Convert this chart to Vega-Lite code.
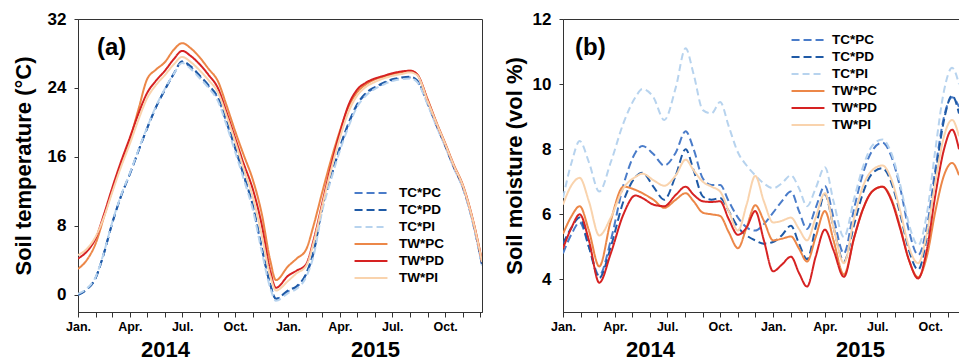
{
  "$schema": "https://vega.github.io/schema/vega-lite/v6.json",
  "padding": {"left": 11, "top": 9, "right": 0, "bottom": 0},
  "spacing": 19,
  "datasets": {
    "temp": [
      {"d": "2014-01-01", "TC_PC": 0.0, "TC_PD": 0.0, "TC_PI": 0.1, "TW_PC": 3.0, "TW_PD": 4.2, "TW_PI": 4.6},
      {"d": "2014-01-16", "TC_PC": 0.6, "TC_PD": 0.6, "TC_PI": 0.7, "TW_PC": 4.0, "TW_PD": 5.0, "TW_PI": 5.3},
      {"d": "2014-02-01", "TC_PC": 2.0, "TC_PD": 2.0, "TC_PI": 2.1, "TW_PC": 6.0, "TW_PD": 6.6, "TW_PI": 6.8},
      {"d": "2014-02-15", "TC_PC": 4.8, "TC_PD": 4.8, "TC_PI": 4.9, "TW_PC": 9.0, "TW_PD": 9.3, "TW_PI": 9.0},
      {"d": "2014-03-01", "TC_PC": 8.2, "TC_PD": 8.2, "TC_PI": 8.3, "TW_PC": 12.0, "TW_PD": 12.3, "TW_PI": 11.8},
      {"d": "2014-03-16", "TC_PC": 11.3, "TC_PD": 11.3, "TC_PI": 11.4, "TW_PC": 15.0, "TW_PD": 15.3, "TW_PI": 14.7},
      {"d": "2014-04-01", "TC_PC": 14.0, "TC_PD": 14.0, "TC_PI": 14.1, "TW_PC": 18.0, "TW_PD": 18.2, "TW_PI": 17.5},
      {"d": "2014-04-16", "TC_PC": 16.7, "TC_PD": 16.7, "TC_PI": 16.8, "TW_PC": 21.5, "TW_PD": 21.0, "TW_PI": 20.3},
      {"d": "2014-05-01", "TC_PC": 19.3, "TC_PD": 19.3, "TC_PI": 19.4, "TW_PC": 25.0, "TW_PD": 23.4, "TW_PI": 22.8},
      {"d": "2014-05-16", "TC_PC": 21.7, "TC_PD": 21.7, "TC_PI": 21.8, "TW_PC": 26.1, "TW_PD": 24.8, "TW_PI": 24.3},
      {"d": "2014-06-01", "TC_PC": 23.8, "TC_PD": 23.8, "TC_PI": 23.9, "TW_PC": 27.0, "TW_PD": 26.0, "TW_PI": 25.5},
      {"d": "2014-06-16", "TC_PC": 25.6, "TC_PD": 25.6, "TC_PI": 25.6, "TW_PC": 28.4, "TW_PD": 27.3, "TW_PI": 26.7},
      {"d": "2014-07-01", "TC_PC": 27.0, "TC_PD": 27.1, "TC_PI": 26.9, "TW_PC": 29.2, "TW_PD": 28.3, "TW_PI": 27.6},
      {"d": "2014-07-16", "TC_PC": 26.4, "TC_PD": 26.5, "TC_PI": 26.2, "TW_PC": 28.6, "TW_PD": 27.7, "TW_PI": 27.0},
      {"d": "2014-08-01", "TC_PC": 25.3, "TC_PD": 25.4, "TC_PI": 25.1, "TW_PC": 27.5, "TW_PD": 26.7, "TW_PI": 26.0},
      {"d": "2014-08-16", "TC_PC": 24.2, "TC_PD": 24.3, "TC_PI": 24.0, "TW_PC": 26.2, "TW_PD": 25.5, "TW_PI": 24.9},
      {"d": "2014-09-01", "TC_PC": 22.8, "TC_PD": 22.9, "TC_PI": 22.5, "TW_PC": 24.8, "TW_PD": 24.0, "TW_PI": 23.5},
      {"d": "2014-09-16", "TC_PC": 20.0, "TC_PD": 20.1, "TC_PI": 19.7, "TW_PC": 22.0, "TW_PD": 21.2, "TW_PI": 20.8},
      {"d": "2014-10-01", "TC_PC": 17.0, "TC_PD": 17.1, "TC_PI": 16.6, "TW_PC": 19.0, "TW_PD": 18.2, "TW_PI": 17.8},
      {"d": "2014-10-16", "TC_PC": 13.8, "TC_PD": 13.9, "TC_PI": 13.4, "TW_PC": 16.2, "TW_PD": 15.2, "TW_PI": 14.6},
      {"d": "2014-11-01", "TC_PC": 10.2, "TC_PD": 10.3, "TC_PI": 9.8, "TW_PC": 13.3, "TW_PD": 12.2, "TW_PI": 11.3},
      {"d": "2014-11-16", "TC_PC": 5.5, "TC_PD": 5.6, "TC_PI": 5.1, "TW_PC": 9.5, "TW_PD": 8.2, "TW_PI": 7.0},
      {"d": "2014-12-01", "TC_PC": 1.2, "TC_PD": 1.2, "TC_PI": 0.8, "TW_PC": 4.0, "TW_PD": 2.8, "TW_PI": 2.2},
      {"d": "2014-12-11", "TC_PC": -0.5, "TC_PD": -0.45, "TC_PI": -0.7, "TW_PC": 1.7, "TW_PD": 0.8, "TW_PI": 0.5},
      {"d": "2015-01-01", "TC_PC": 0.4, "TC_PD": 0.5, "TC_PI": 0.2, "TW_PC": 3.3, "TW_PD": 2.2, "TW_PI": 1.6},
      {"d": "2015-01-16", "TC_PC": 0.9, "TC_PD": 1.0, "TC_PI": 0.7, "TW_PC": 4.2, "TW_PD": 2.8, "TW_PI": 2.5},
      {"d": "2015-02-01", "TC_PC": 2.3, "TC_PD": 2.4, "TC_PI": 2.0, "TW_PC": 5.2, "TW_PD": 3.5, "TW_PI": 3.3},
      {"d": "2015-02-15", "TC_PC": 5.0, "TC_PD": 5.2, "TC_PI": 4.7, "TW_PC": 8.2, "TW_PD": 6.5, "TW_PI": 6.2},
      {"d": "2015-03-01", "TC_PC": 10.0, "TC_PD": 10.0, "TC_PI": 9.6, "TW_PC": 11.8, "TW_PD": 10.5, "TW_PI": 10.2},
      {"d": "2015-03-16", "TC_PC": 13.5, "TC_PD": 13.5, "TC_PI": 13.2, "TW_PC": 15.5, "TW_PD": 14.8, "TW_PI": 14.3},
      {"d": "2015-04-01", "TC_PC": 17.0, "TC_PD": 17.1, "TC_PI": 16.7, "TW_PC": 19.0, "TW_PD": 18.8, "TW_PI": 18.2},
      {"d": "2015-04-16", "TC_PC": 19.8, "TC_PD": 19.9, "TC_PI": 19.5, "TW_PC": 21.8, "TW_PD": 22.0, "TW_PI": 21.2},
      {"d": "2015-05-01", "TC_PC": 22.0, "TC_PD": 22.1, "TC_PI": 21.8, "TW_PC": 23.5, "TW_PD": 23.8, "TW_PI": 23.1},
      {"d": "2015-05-16", "TC_PC": 23.3, "TC_PD": 23.4, "TC_PI": 23.1, "TW_PC": 24.4, "TW_PD": 24.6, "TW_PI": 24.1},
      {"d": "2015-06-01", "TC_PC": 24.0, "TC_PD": 24.1, "TC_PI": 23.9, "TW_PC": 25.0, "TW_PD": 25.1, "TW_PI": 24.7},
      {"d": "2015-06-16", "TC_PC": 24.5, "TC_PD": 24.6, "TC_PI": 24.4, "TW_PC": 25.3, "TW_PD": 25.4, "TW_PI": 25.1},
      {"d": "2015-07-01", "TC_PC": 24.9, "TC_PD": 25.0, "TC_PI": 24.8, "TW_PC": 25.6, "TW_PD": 25.7, "TW_PI": 25.4},
      {"d": "2015-07-16", "TC_PC": 25.1, "TC_PD": 25.2, "TC_PI": 25.0, "TW_PC": 25.8, "TW_PD": 25.9, "TW_PI": 25.6},
      {"d": "2015-08-01", "TC_PC": 25.2, "TC_PD": 25.3, "TC_PI": 25.1, "TW_PC": 26.0, "TW_PD": 26.0, "TW_PI": 25.8},
      {"d": "2015-08-13", "TC_PC": 24.8, "TC_PD": 24.9, "TC_PI": 24.7, "TW_PC": 25.6, "TW_PD": 25.6, "TW_PI": 25.5},
      {"d": "2015-09-01", "TC_PC": 22.1, "TC_PD": 22.2, "TC_PI": 22.0, "TW_PC": 22.6, "TW_PD": 22.5, "TW_PI": 22.4},
      {"d": "2015-09-16", "TC_PC": 19.6, "TC_PD": 19.7, "TC_PI": 19.5, "TW_PC": 20.0, "TW_PD": 19.9, "TW_PI": 19.9},
      {"d": "2015-10-01", "TC_PC": 17.3, "TC_PD": 17.3, "TC_PI": 17.2, "TW_PC": 17.6, "TW_PD": 17.5, "TW_PI": 17.5},
      {"d": "2015-10-16", "TC_PC": 14.8, "TC_PD": 14.8, "TC_PI": 14.7, "TW_PC": 15.1, "TW_PD": 15.0, "TW_PI": 15.0},
      {"d": "2015-11-01", "TC_PC": 12.4, "TC_PD": 12.4, "TC_PI": 12.3, "TW_PC": 12.7, "TW_PD": 12.6, "TW_PI": 12.6},
      {"d": "2015-11-16", "TC_PC": 9.0, "TC_PD": 9.0, "TC_PI": 8.9, "TW_PC": 9.3, "TW_PD": 9.2, "TW_PI": 9.2},
      {"d": "2015-12-01", "TC_PC": 4.5, "TC_PD": 4.5, "TC_PI": 4.4, "TW_PC": 4.9, "TW_PD": 4.8, "TW_PI": 4.8},
      {"d": "2015-12-04", "TC_PC": 3.5, "TC_PD": 3.5, "TC_PI": 3.4, "TW_PC": 3.9, "TW_PD": 3.8, "TW_PI": 3.8}
    ],
    "moist": [
      {"d": "2014-01-01", "TC_PC": 4.8, "TC_PD": 5.1, "TC_PI": 6.5, "TW_PC": 5.4, "TW_PD": 4.95, "TW_PI": 6.3},
      {"d": "2014-01-16", "TC_PC": 5.4, "TC_PD": 5.6, "TC_PI": 7.6, "TW_PC": 5.95, "TW_PD": 5.6, "TW_PI": 6.9},
      {"d": "2014-01-30", "TC_PC": 5.75, "TC_PD": 5.9, "TC_PI": 8.25, "TW_PC": 6.25, "TW_PD": 6.0, "TW_PI": 7.12},
      {"d": "2014-02-15", "TC_PC": 5.0, "TC_PD": 5.0, "TC_PI": 7.6, "TW_PC": 5.5, "TW_PD": 5.2, "TW_PI": 6.4},
      {"d": "2014-03-05", "TC_PC": 4.12, "TC_PD": 4.05, "TC_PI": 6.7, "TW_PC": 4.4, "TW_PD": 3.9, "TW_PI": 5.35},
      {"d": "2014-03-25", "TC_PC": 5.2, "TC_PD": 5.0, "TC_PI": 7.6, "TW_PC": 5.8, "TW_PD": 4.8, "TW_PI": 5.9},
      {"d": "2014-04-16", "TC_PC": 6.9, "TC_PD": 6.4, "TC_PI": 8.8, "TW_PC": 6.85, "TW_PD": 6.0, "TW_PI": 6.8},
      {"d": "2014-05-07", "TC_PC": 7.9, "TC_PD": 7.15, "TC_PI": 9.6, "TW_PC": 6.75, "TW_PD": 6.58, "TW_PI": 7.15},
      {"d": "2014-05-19", "TC_PC": 8.1, "TC_PD": 7.28, "TC_PI": 9.85, "TW_PC": 6.65, "TW_PD": 6.5, "TW_PI": 7.25},
      {"d": "2014-06-07", "TC_PC": 7.85, "TC_PD": 6.85, "TC_PI": 9.6, "TW_PC": 6.45, "TW_PD": 6.3, "TW_PI": 7.05},
      {"d": "2014-06-26", "TC_PC": 7.5, "TC_PD": 6.45, "TC_PI": 8.9, "TW_PC": 6.2, "TW_PD": 6.25, "TW_PI": 6.88},
      {"d": "2014-07-16", "TC_PC": 7.9, "TC_PD": 7.2, "TC_PI": 9.9, "TW_PC": 6.45, "TW_PD": 6.6, "TW_PI": 7.2},
      {"d": "2014-08-02", "TC_PC": 8.55, "TC_PD": 8.0, "TC_PI": 11.1, "TW_PC": 6.65, "TW_PD": 6.85, "TW_PI": 7.68},
      {"d": "2014-08-16", "TC_PC": 8.0, "TC_PD": 7.35, "TC_PI": 10.3, "TW_PC": 6.4, "TW_PD": 6.6, "TW_PI": 7.35},
      {"d": "2014-09-01", "TC_PC": 7.1, "TC_PD": 6.55, "TC_PI": 9.2, "TW_PC": 6.05, "TW_PD": 6.4, "TW_PI": 7.0},
      {"d": "2014-09-16", "TC_PC": 6.9, "TC_PD": 6.45, "TC_PI": 9.1, "TW_PC": 6.0, "TW_PD": 6.38, "TW_PI": 6.85},
      {"d": "2014-10-01", "TC_PC": 6.9, "TC_PD": 6.5, "TC_PI": 9.45, "TW_PC": 5.95, "TW_PD": 6.4, "TW_PI": 6.7},
      {"d": "2014-10-16", "TC_PC": 6.4, "TC_PD": 6.1, "TC_PI": 8.7, "TW_PC": 5.45, "TW_PD": 5.85, "TW_PI": 6.1},
      {"d": "2014-11-01", "TC_PC": 5.9, "TC_PD": 5.6, "TC_PI": 7.9, "TW_PC": 4.96, "TW_PD": 5.37, "TW_PI": 5.5},
      {"d": "2014-11-16", "TC_PC": 5.6, "TC_PD": 5.35, "TC_PI": 7.5, "TW_PC": 5.6, "TW_PD": 5.6, "TW_PI": 6.3},
      {"d": "2014-12-01", "TC_PC": 5.5, "TC_PD": 5.2, "TC_PI": 7.2, "TW_PC": 6.28, "TW_PD": 6.1, "TW_PI": 7.18},
      {"d": "2014-12-16", "TC_PC": 5.7, "TC_PD": 5.1, "TC_PI": 6.95, "TW_PC": 5.8, "TW_PD": 5.2, "TW_PI": 6.4},
      {"d": "2015-01-01", "TC_PC": 6.05, "TC_PD": 5.15, "TC_PI": 6.8, "TW_PC": 5.2, "TW_PD": 4.25, "TW_PI": 5.75},
      {"d": "2015-01-16", "TC_PC": 6.4, "TC_PD": 5.35, "TC_PI": 6.95, "TW_PC": 5.25, "TW_PD": 4.45, "TW_PI": 5.8},
      {"d": "2015-02-01", "TC_PC": 6.7, "TC_PD": 5.65, "TC_PI": 7.2, "TW_PC": 5.32, "TW_PD": 4.7, "TW_PI": 5.9},
      {"d": "2015-02-15", "TC_PC": 6.1, "TC_PD": 5.1, "TC_PI": 6.8, "TW_PC": 4.95, "TW_PD": 4.2, "TW_PI": 5.55},
      {"d": "2015-03-01", "TC_PC": 5.55, "TC_PD": 4.62, "TC_PI": 6.25, "TW_PC": 4.55, "TW_PD": 3.78, "TW_PI": 5.2},
      {"d": "2015-03-16", "TC_PC": 6.2, "TC_PD": 5.6, "TC_PI": 6.8, "TW_PC": 5.3, "TW_PD": 4.7, "TW_PI": 5.9},
      {"d": "2015-04-01", "TC_PC": 6.87, "TC_PD": 6.62, "TC_PI": 7.45, "TW_PC": 6.1, "TW_PD": 5.53, "TW_PI": 6.65},
      {"d": "2015-04-16", "TC_PC": 5.9, "TC_PD": 5.6, "TC_PI": 6.4, "TW_PC": 5.2, "TW_PD": 4.9, "TW_PI": 5.6},
      {"d": "2015-05-04", "TC_PC": 4.8, "TC_PD": 4.55, "TC_PI": 5.3, "TW_PC": 4.15, "TW_PD": 4.08, "TW_PI": 4.5},
      {"d": "2015-05-22", "TC_PC": 6.2, "TC_PD": 5.7, "TC_PI": 6.5, "TW_PC": 5.3, "TW_PD": 5.3, "TW_PI": 5.9},
      {"d": "2015-06-07", "TC_PC": 7.3, "TC_PD": 6.7, "TC_PI": 7.5, "TW_PC": 6.2, "TW_PD": 6.2, "TW_PI": 6.9},
      {"d": "2015-06-22", "TC_PC": 7.95, "TC_PD": 7.25, "TC_PI": 8.1, "TW_PC": 6.7, "TW_PD": 6.7, "TW_PI": 7.35},
      {"d": "2015-07-10", "TC_PC": 8.2, "TC_PD": 7.42, "TC_PI": 8.3, "TW_PC": 6.85, "TW_PD": 6.85, "TW_PI": 7.5},
      {"d": "2015-07-25", "TC_PC": 7.8, "TC_PD": 7.0, "TC_PI": 7.9, "TW_PC": 6.5, "TW_PD": 6.45, "TW_PI": 7.1},
      {"d": "2015-08-10", "TC_PC": 6.8, "TC_PD": 6.0, "TC_PI": 6.9, "TW_PC": 5.6, "TW_PD": 5.55, "TW_PI": 6.1},
      {"d": "2015-08-25", "TC_PC": 5.5, "TC_PD": 4.9, "TC_PI": 5.7, "TW_PC": 4.6, "TW_PD": 4.6, "TW_PI": 5.0},
      {"d": "2015-09-10", "TC_PC": 4.75, "TC_PD": 4.3, "TC_PI": 5.05, "TW_PC": 4.07, "TW_PD": 4.03, "TW_PI": 4.5},
      {"d": "2015-09-25", "TC_PC": 5.6, "TC_PD": 5.3, "TC_PI": 6.0, "TW_PC": 4.7, "TW_PD": 4.9, "TW_PI": 5.4},
      {"d": "2015-10-10", "TC_PC": 7.4, "TC_PD": 7.2, "TC_PI": 8.0, "TW_PC": 6.1, "TW_PD": 6.6, "TW_PI": 7.0},
      {"d": "2015-10-25", "TC_PC": 9.0, "TC_PD": 8.9, "TC_PI": 9.8, "TW_PC": 7.2, "TW_PD": 8.0, "TW_PI": 8.4},
      {"d": "2015-11-08", "TC_PC": 9.6, "TC_PD": 9.65, "TC_PI": 10.5, "TW_PC": 7.58, "TW_PD": 8.6, "TW_PI": 8.9},
      {"d": "2015-11-20", "TC_PC": 9.3, "TC_PD": 9.1, "TC_PI": 10.0, "TW_PC": 7.2, "TW_PD": 8.0, "TW_PI": 8.4}
    ]
  },
  "resolve": {
    "scale": {"x": "independent", "y": "independent", "color": "independent", "strokeDash": "independent"},
    "legend": {"color": "independent", "strokeDash": "independent"}
  },
  "hconcat": [
    {
      "width": 404,
      "height": 293,
      "layer": [
        {
          "data": {"name": "temp"},
          "transform": [{"fold": ["TC_PC", "TC_PD", "TC_PI", "TW_PC", "TW_PD", "TW_PI"], "as": ["s", "v"]}],
          "mark": {"type": "line", "interpolate": "monotone", "strokeWidth": 2, "clip": true},
          "encoding": {
            "x": {
              "field": "d", "type": "temporal", "title": null,
              "scale": {"type": "utc", "domain": [{"year": 2014, "month": 1, "date": 1, "utc": true}, {"year": 2015, "month": 12, "date": 4, "utc": true}]},
              "axis": {
                "tickCount": {"interval": "month", "step": 1},
                "labelExpr": "utcmonth(datum.value) == 5 ? ['', '' + utcyear(datum.value)] : (utcmonth(datum.value) % 3 == 0 ? ['Jan.', 'Apr.', 'Jul.', 'Oct.'][utcmonth(datum.value) / 3] : '')",
                "labelFontSize": {"condition": {"test": "utcmonth(datum.value) == 5", "value": 22}, "value": 12.5},
                "labelLineHeight": 19,
                "labelPadding": 3,
                "tickSize": 5,
                "labelOverlap": false,
                "labelFlush": false,
                "labelBound": false
              }
            },
            "y": {
              "field": "v", "type": "quantitative",
              "scale": {"domain": [-2, 32], "nice": false, "zero": false},
              "axis": {
                "title": "Soil temperature (°C)",
                "values": [0, 2, 4, 6, 8, 10, 12, 14, 16, 18, 20, 22, 24, 26, 28, 30, 32],
                "labelExpr": "datum.value % 8 == 0 ? '' + datum.value : ''",
                "labelOverlap": false,
                "titlePadding": 12
              }
            },
            "color": {
              "field": "s", "type": "nominal",
              "scale": {"domain": ["TC_PC", "TC_PD", "TC_PI", "TW_PC", "TW_PD", "TW_PI"], "range": ["#4a7cc9", "#1f5aa6", "#b7d3ee", "#ec8748", "#d62222", "#f9d3ad"]},
              "legend": {"orient": "none", "legendX": 283, "legendY": 164, "title": null, "symbolType": "M-1.9,0H1.9", "symbolSize": 300, "symbolStrokeWidth": 2.2, "labelFontSize": 13.5, "labelFontWeight": "bold", "labelColor": "#000", "labelOffset": 18, "rowPadding": 0, "padding": 0, "labelExpr": "replace(datum.label, '_', '*')"}
            },
            "strokeDash": {
              "field": "s", "type": "nominal",
              "scale": {"domain": ["TC_PC", "TC_PD", "TC_PI", "TW_PC", "TW_PD", "TW_PI"], "range": [[8, 4], [8, 4], [7, 4], [1, 0], [1, 0], [1, 0]]},
              "legend": {"orient": "none", "legendX": 283, "legendY": 164, "title": null, "symbolType": "M-1.9,0H1.9", "symbolSize": 300, "symbolStrokeWidth": 2.2, "labelFontSize": 13.5, "labelFontWeight": "bold", "labelColor": "#000", "labelOffset": 18, "rowPadding": 0, "padding": 0, "labelExpr": "replace(datum.label, '_', '*')"}
            }
          }
        },
        {
          "data": {"values": [{"label": "(a)"}]},
          "mark": {"type": "text", "align": "left", "baseline": "middle", "fontSize": 24, "fontWeight": "bold", "color": "#000"},
          "encoding": {
            "text": {"field": "label"},
            "x": {"datum": {"year": 2014, "month": 2, "date": 3, "utc": true}, "type": "temporal"},
            "y": {"datum": 28.6, "type": "quantitative"}
          }
        }
      ]
    },
    {
      "width": 396,
      "height": 293,
      "layer": [
        {
          "data": {"name": "moist"},
          "transform": [{"fold": ["TC_PC", "TC_PD", "TC_PI", "TW_PC", "TW_PD", "TW_PI"], "as": ["s", "v"]}],
          "mark": {"type": "line", "interpolate": "monotone", "strokeWidth": 2, "clip": true},
          "encoding": {
            "x": {
              "field": "d", "type": "temporal", "title": null,
              "scale": {"type": "utc", "domain": [{"year": 2014, "month": 1, "date": 1, "utc": true}, {"year": 2015, "month": 11, "date": 20, "utc": true}]},
              "axis": {
                "tickCount": {"interval": "month", "step": 1},
                "labelExpr": "utcmonth(datum.value) == 5 ? ['', '' + utcyear(datum.value)] : (utcmonth(datum.value) % 3 == 0 ? ['Jan.', 'Apr.', 'Jul.', 'Oct.'][utcmonth(datum.value) / 3] : '')",
                "labelFontSize": {"condition": {"test": "utcmonth(datum.value) == 5", "value": 22}, "value": 12.5},
                "labelLineHeight": 19,
                "labelPadding": 3,
                "tickSize": 5,
                "labelOverlap": false,
                "labelFlush": false,
                "labelBound": false
              }
            },
            "y": {
              "field": "v", "type": "quantitative",
              "scale": {"domain": [3, 12], "nice": false, "zero": false},
              "axis": {
                "title": "Soil moisture (vol %)",
                "values": [4, 5, 6, 7, 8, 9, 10, 11, 12],
                "labelOpacity": {"condition": {"test": "datum.value % 2 == 1", "value": 0}, "value": 1},
                "labelOverlap": false,
                "titlePadding": 6
              }
            },
            "color": {
              "field": "s", "type": "nominal",
              "scale": {"domain": ["TC_PC", "TC_PD", "TC_PI", "TW_PC", "TW_PD", "TW_PI"], "range": ["#4a7cc9", "#1f5aa6", "#b7d3ee", "#ec8748", "#d62222", "#f9d3ad"]},
              "legend": {"orient": "none", "legendX": 235, "legendY": 11, "title": null, "symbolType": "M-1.9,0H1.9", "symbolSize": 300, "symbolStrokeWidth": 2.2, "labelFontSize": 13.5, "labelFontWeight": "bold", "labelColor": "#000", "labelOffset": 14, "rowPadding": 0, "padding": 0, "labelExpr": "replace(datum.label, '_', '*')"}
            },
            "strokeDash": {
              "field": "s", "type": "nominal",
              "scale": {"domain": ["TC_PC", "TC_PD", "TC_PI", "TW_PC", "TW_PD", "TW_PI"], "range": [[8, 4], [8, 4], [7, 4], [1, 0], [1, 0], [1, 0]]},
              "legend": {"orient": "none", "legendX": 235, "legendY": 11, "title": null, "symbolType": "M-1.9,0H1.9", "symbolSize": 300, "symbolStrokeWidth": 2.2, "labelFontSize": 13.5, "labelFontWeight": "bold", "labelColor": "#000", "labelOffset": 14, "rowPadding": 0, "padding": 0, "labelExpr": "replace(datum.label, '_', '*')"}
            }
          }
        },
        {
          "data": {"values": [{"label": "(b)"}]},
          "mark": {"type": "text", "align": "left", "baseline": "middle", "fontSize": 24, "fontWeight": "bold", "color": "#000"},
          "encoding": {
            "text": {"field": "label"},
            "x": {"datum": {"year": 2014, "month": 1, "date": 22, "utc": true}, "type": "temporal"},
            "y": {"datum": 11.1, "type": "quantitative"}
          }
        }
      ]
    }
  ],
  "config": {
    "font": "Liberation Sans",
    "view": {"stroke": "#333", "strokeWidth": 1},
    "axis": {
      "grid": false,
      "domainColor": "#333",
      "tickColor": "#333",
      "labelColor": "#000",
      "labelFontWeight": "bold",
      "titleColor": "#000",
      "titleFontWeight": "bold",
      "titleFontSize": 22
    },
    "axisY": {"tickSize": 4, "labelPadding": 8, "labelFontSize": 17}
  }
}
